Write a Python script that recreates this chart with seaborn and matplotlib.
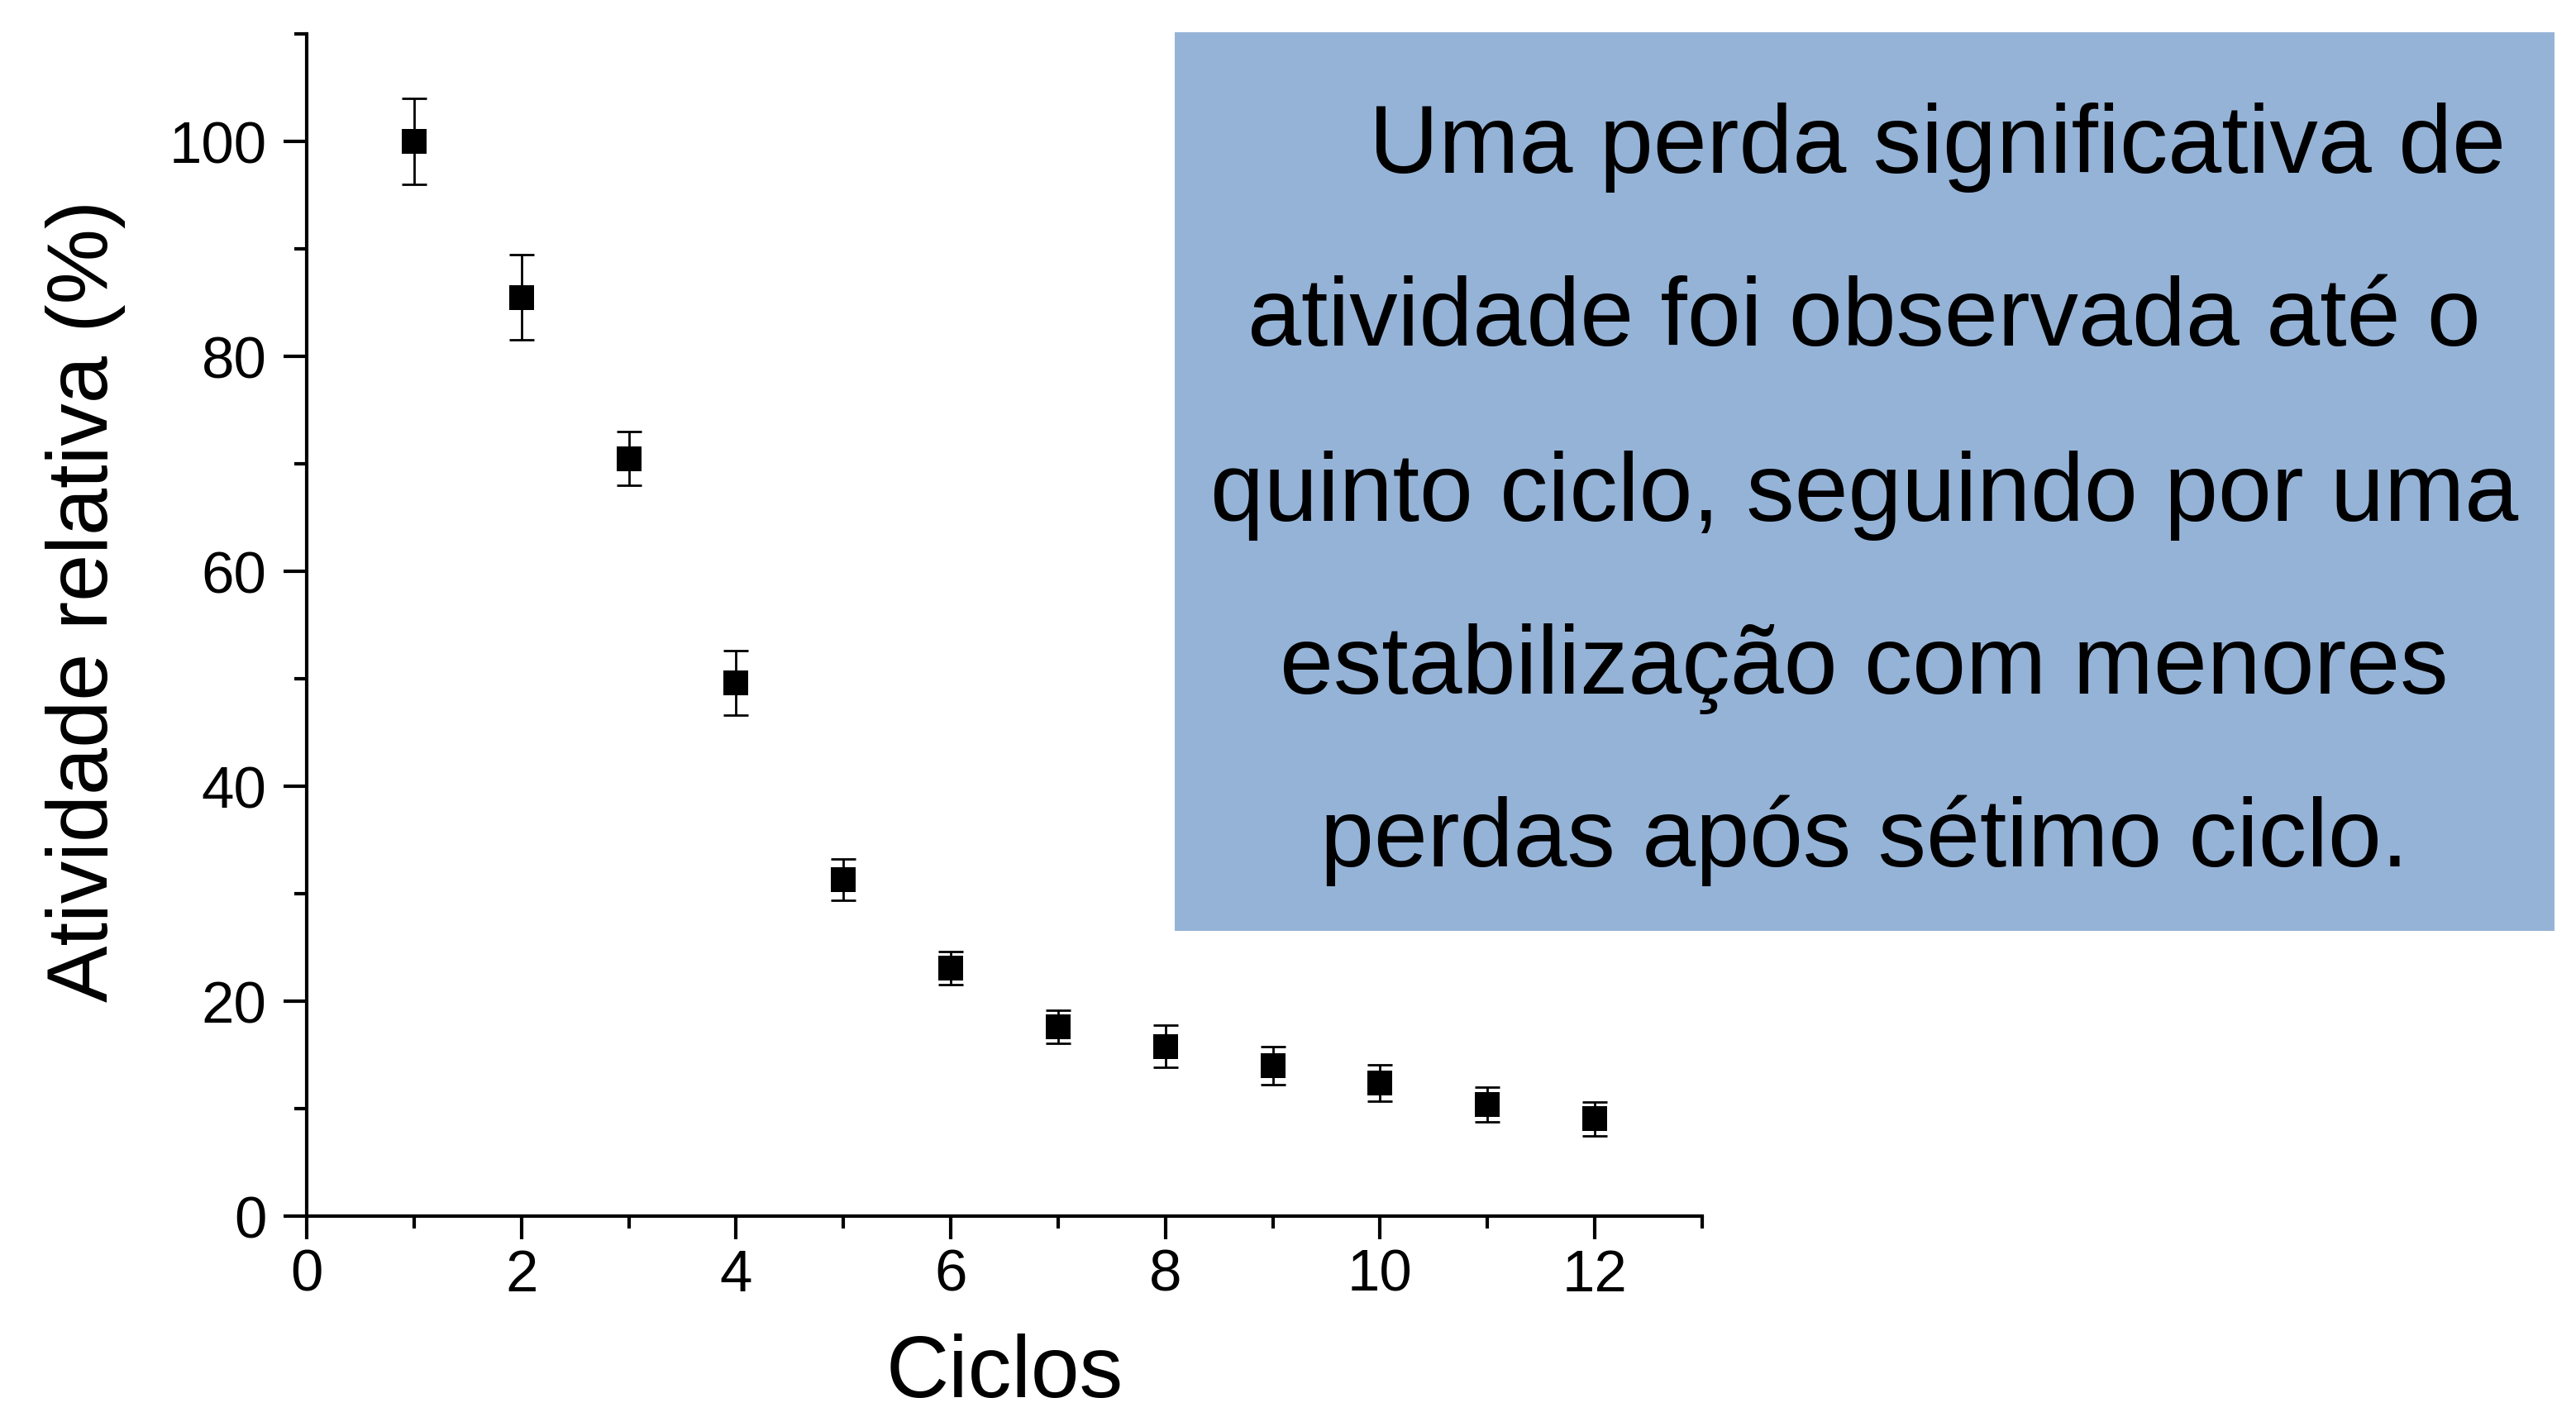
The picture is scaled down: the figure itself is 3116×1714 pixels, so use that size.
import matplotlib
matplotlib.use("Agg")
import matplotlib.pyplot as plt
import seaborn as sns
import pandas as pd
from matplotlib.patches import Rectangle
from matplotlib.ticker import MultipleLocator

# ---- data ----
ciclos = [1, 2, 3, 4, 5, 6, 7, 8, 9, 10, 11, 12]
atividade = [100.0, 85.5, 70.5, 49.6, 31.3, 23.1, 17.6, 15.8, 14.0, 12.4, 10.4, 9.05]
erro = [4.0, 3.95, 2.5, 3.0, 1.9, 1.55, 1.55, 1.95, 1.8, 1.7, 1.6, 1.55]
x_ticks = [0, 2, 4, 6, 8, 10, 12]
y_ticks = [0, 20, 40, 60, 80, 100]
x_label = "Ciclos"
y_label = "Atividade relativa (%)"
texto_linhas = [
    "Uma perda significativa de",
    "atividade foi observada até o",
    "quinto ciclo, seguindo por uma",
    "estabilização com menores",
    "perdas após sétimo ciclo.",
]

# ---- style ----
sns.set_style("ticks")
plt.rcParams["font.family"] = ["Liberation Sans", "DejaVu Sans"]

W, H = 3116, 1715
fig = plt.figure(figsize=(W / 100, H / 100), dpi=100)
ax = fig.add_axes([371 / W, 1 - 1472 / H, (2059 - 371) / W, (1472 - 42) / H])

df = pd.DataFrame({"Ciclos": ciclos, "Atividade": atividade, "Erro": erro})

ax.errorbar(df["Ciclos"], df["Atividade"], yerr=df["Erro"], fmt="none",
            ecolor="black", elinewidth=2, capsize=10.5, capthick=2, zorder=2)
sns.scatterplot(data=df, x="Ciclos", y="Atividade", marker="s", s=21 ** 2,
                color="black", edgecolor="black", linewidth=0, ax=ax,
                zorder=3, legend=False)

ax.set_xlim(0, 13)
ax.set_ylim(0, 110)
ax.set_xticks(x_ticks)
ax.set_yticks(y_ticks)
ax.xaxis.set_minor_locator(MultipleLocator(1))
ax.yaxis.set_minor_locator(MultipleLocator(10))
ax.set_xlabel("")
ax.set_ylabel("")

for s in ["top", "right"]:
    ax.spines[s].set_visible(False)
for s in ["left", "bottom"]:
    ax.spines[s].set_linewidth(3)
    ax.spines[s].set_color("black")

ax.tick_params(axis="both", which="major", direction="out", length=20, width=3,
               color="black", labelsize=51, labelcolor="black")
ax.tick_params(axis="both", which="minor", direction="out", length=11, width=3,
               color="black")
ax.tick_params(axis="x", which="major", pad=8)
ax.tick_params(axis="y", which="major", pad=15)

fig.text(1215 / W, 3 / H, x_label, ha="center", va="bottom",
         fontsize=76, color="black")
fig.text(104 / W, 1 - 727 / H, y_label, ha="center", va="center",
         rotation=90, fontsize=74, color="black")

# ---- annotation box ----
fig.add_artist(Rectangle((1421 / W, 1 - 1127 / H), (3090 - 1421) / W, (1127 - 40) / H,
                         transform=fig.transFigure, facecolor="#95B3D7",
                         edgecolor="none", zorder=5))
baselines = [209, 418, 630, 839, 1048]
centers = [2343, 2255, 2255, 2255, 2255]
for txt, yb, xc in zip(texto_linhas, baselines, centers):
    fig.text(xc / W, 1 - yb / H, txt, ha="center", va="baseline",
             fontsize=84, color="black", zorder=6)

fig.savefig("out.png", dpi=100)
